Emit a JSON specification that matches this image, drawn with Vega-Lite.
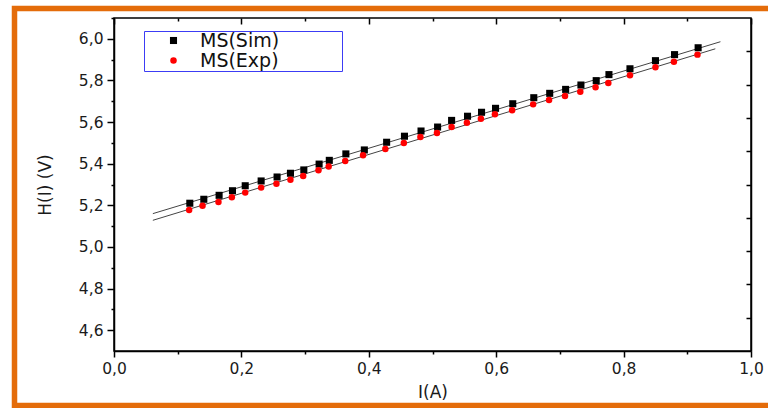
{
  "$schema": "https://vega.github.io/schema/vega-lite/v6.json",
  "width": 637,
  "height": 333,
  "autosize": {"type": "none"},
  "padding": {"left": 114, "top": 18, "right": 17, "bottom": 57},
  "background": "white",
  "config": {
    "view": {"stroke": "#000", "strokeWidth": 1.5},
    "font": "DejaVu Sans",
    "axis": {
      "grid": false,
      "domainColor": "#000",
      "domainWidth": 1.5,
      "tickColor": "#000",
      "tickWidth": 1.5,
      "labelFont": "DejaVu Sans",
      "labelFontSize": 15.5,
      "labelColor": "#1a1a1a",
      "labelFlush": false,
      "labelOverlap": false,
      "titleFont": "DejaVu Sans",
      "titleFontSize": 17,
      "titleFontWeight": "normal",
      "titleColor": "#1a1a1a"
    },
    "legend": {
      "orient": "none",
      "legendX": 30,
      "legendY": 13,
      "strokeColor": "#3c3cf5",
      "strokeWidth": 1,
      "fillColor": "white",
      "padding": 0,
      "rowPadding": 0,
      "symbolSize": 30,
      "symbolOffset": 20,
      "symbolStrokeWidth": 0,
      "labelOffset": 17,
      "labelFont": "DejaVu Sans",
      "labelFontSize": 19,
      "labelColor": "#111",
      "labelLimit": 400
    }
  },
  "datasets": {
    "pts": [
      {"series": "MS(Sim)", "I": 0.119, "H": 5.210},
      {"series": "MS(Sim)", "I": 0.141, "H": 5.229},
      {"series": "MS(Sim)", "I": 0.165, "H": 5.248},
      {"series": "MS(Sim)", "I": 0.186, "H": 5.270},
      {"series": "MS(Sim)", "I": 0.206, "H": 5.294},
      {"series": "MS(Sim)", "I": 0.231, "H": 5.317},
      {"series": "MS(Sim)", "I": 0.256, "H": 5.336},
      {"series": "MS(Sim)", "I": 0.277, "H": 5.354},
      {"series": "MS(Sim)", "I": 0.298, "H": 5.370},
      {"series": "MS(Sim)", "I": 0.322, "H": 5.398},
      {"series": "MS(Sim)", "I": 0.338, "H": 5.416},
      {"series": "MS(Sim)", "I": 0.364, "H": 5.447},
      {"series": "MS(Sim)", "I": 0.393, "H": 5.466},
      {"series": "MS(Sim)", "I": 0.428, "H": 5.503},
      {"series": "MS(Sim)", "I": 0.456, "H": 5.532},
      {"series": "MS(Sim)", "I": 0.482, "H": 5.557},
      {"series": "MS(Sim)", "I": 0.508, "H": 5.576},
      {"series": "MS(Sim)", "I": 0.530, "H": 5.608},
      {"series": "MS(Sim)", "I": 0.555, "H": 5.628},
      {"series": "MS(Sim)", "I": 0.577, "H": 5.647},
      {"series": "MS(Sim)", "I": 0.599, "H": 5.666},
      {"series": "MS(Sim)", "I": 0.626, "H": 5.688},
      {"series": "MS(Sim)", "I": 0.659, "H": 5.717},
      {"series": "MS(Sim)", "I": 0.684, "H": 5.738},
      {"series": "MS(Sim)", "I": 0.709, "H": 5.757},
      {"series": "MS(Sim)", "I": 0.733, "H": 5.778},
      {"series": "MS(Sim)", "I": 0.757, "H": 5.799},
      {"series": "MS(Sim)", "I": 0.777, "H": 5.828},
      {"series": "MS(Sim)", "I": 0.810, "H": 5.856},
      {"series": "MS(Sim)", "I": 0.850, "H": 5.895},
      {"series": "MS(Sim)", "I": 0.880, "H": 5.924},
      {"series": "MS(Sim)", "I": 0.917, "H": 5.957},
      {"series": "MS(Exp)", "I": 0.118, "H": 5.178},
      {"series": "MS(Exp)", "I": 0.139, "H": 5.198},
      {"series": "MS(Exp)", "I": 0.164, "H": 5.216},
      {"series": "MS(Exp)", "I": 0.185, "H": 5.239},
      {"series": "MS(Exp)", "I": 0.206, "H": 5.261},
      {"series": "MS(Exp)", "I": 0.231, "H": 5.285},
      {"series": "MS(Exp)", "I": 0.255, "H": 5.304},
      {"series": "MS(Exp)", "I": 0.277, "H": 5.323},
      {"series": "MS(Exp)", "I": 0.297, "H": 5.341},
      {"series": "MS(Exp)", "I": 0.321, "H": 5.368},
      {"series": "MS(Exp)", "I": 0.337, "H": 5.387},
      {"series": "MS(Exp)", "I": 0.363, "H": 5.413},
      {"series": "MS(Exp)", "I": 0.391, "H": 5.440},
      {"series": "MS(Exp)", "I": 0.426, "H": 5.471},
      {"series": "MS(Exp)", "I": 0.455, "H": 5.499},
      {"series": "MS(Exp)", "I": 0.481, "H": 5.528},
      {"series": "MS(Exp)", "I": 0.507, "H": 5.547},
      {"series": "MS(Exp)", "I": 0.530, "H": 5.576},
      {"series": "MS(Exp)", "I": 0.554, "H": 5.597},
      {"series": "MS(Exp)", "I": 0.576, "H": 5.616},
      {"series": "MS(Exp)", "I": 0.598, "H": 5.637},
      {"series": "MS(Exp)", "I": 0.625, "H": 5.657},
      {"series": "MS(Exp)", "I": 0.658, "H": 5.685},
      {"series": "MS(Exp)", "I": 0.683, "H": 5.706},
      {"series": "MS(Exp)", "I": 0.708, "H": 5.725},
      {"series": "MS(Exp)", "I": 0.732, "H": 5.746},
      {"series": "MS(Exp)", "I": 0.756, "H": 5.767},
      {"series": "MS(Exp)", "I": 0.776, "H": 5.788},
      {"series": "MS(Exp)", "I": 0.810, "H": 5.825},
      {"series": "MS(Exp)", "I": 0.850, "H": 5.863},
      {"series": "MS(Exp)", "I": 0.879, "H": 5.890},
      {"series": "MS(Exp)", "I": 0.916, "H": 5.924}
    ],
    "fits": [
      {"series": "MS(Sim)", "I": 0.061, "H": 5.160},
      {"series": "MS(Sim)", "I": 0.952, "H": 5.986},
      {"series": "MS(Exp)", "I": 0.061, "H": 5.128},
      {"series": "MS(Exp)", "I": 0.944, "H": 5.952}
    ],
    "one": [{}]
  },
  "layer": [
    {
      "data": {"name": "one"},
      "mark": {"type": "rect", "fill": "transparent", "stroke": "#e46c0a", "strokeWidth": 5.5},
      "encoding": {
        "x": {"datum": -0.1562, "type": "quantitative", "axis": null},
        "x2": {"datum": 1.1},
        "y": {"datum": 6.1457, "type": "quantitative", "axis": null},
        "y2": {"datum": 4.2381}
      }
    },
    {
      "data": {"name": "fits"},
      "mark": {"type": "line", "color": "#444444", "strokeWidth": 1},
      "encoding": {
        "x": {
          "field": "I", "type": "quantitative",
          "scale": {"domain": [0, 1], "nice": false, "zero": false},
          "axis": {
            "orient": "bottom",
            "values": [0, 0.1, 0.2, 0.3, 0.4, 0.5, 0.6, 0.7, 0.8, 0.9, 1.0],
            "tickSize": {"condition": {"test": "round(datum.value*10)%2==0", "value": 6}, "value": 3},
            "labelExpr": "round(datum.value*10)%2==0 ? replace(format(datum.value,'.1f'),'.',',') : ''",
            "labelPadding": 4,
            "grid": true,
            "gridColor": "#000",
            "gridWidth": 1.5,
            "gridOpacity": 1,
            "gridDash": {"condition": {"test": "round(datum.value*10)%2==0", "value": [6, 1000]}, "value": [3, 1000]},
            "title": "I(A)",
            "titlePadding": 8
          }
        },
        "y": {
          "field": "H", "type": "quantitative",
          "scale": {"domain": [4.5, 6.1], "nice": false, "zero": false},
          "axis": {
            "orient": "left",
            "values": [4.6, 4.7, 4.8, 4.9, 5.0, 5.1, 5.2, 5.3, 5.4, 5.5, 5.6, 5.7, 5.8, 5.9, 6.0, 6.1],
            "tickSize": {"condition": {"test": "round(datum.value*10)%2==0", "value": 7}, "value": 3},
            "labelExpr": "round(datum.value*10)%2==0 ? replace(format(datum.value,'.1f'),'.',',') : ''",
            "labelPadding": 4,
            "title": "H(I) (V)",
            "titlePadding": 24
          }
        },
        "detail": {"field": "series"}
      }
    },
    {
      "data": {"name": "pts"},
      "mark": {"type": "point", "filled": true, "opacity": 1, "strokeWidth": 0},
      "encoding": {
        "x": {"field": "I", "type": "quantitative", "axis": null},
        "y": {
          "field": "H", "type": "quantitative",
          "axis": {
            "orient": "right",
            "values": [4.66, 4.82, 4.98, 5.14, 5.3, 5.46, 5.62, 5.78, 5.94],
            "tickSize": -5,
            "labels": false,
            "title": null
          }
        },
        "color": {
          "field": "series", "type": "nominal",
          "scale": {"domain": ["MS(Sim)", "MS(Exp)"], "range": ["#000000", "#ff0000"]},
          "legend": {"title": null, "labelExpr": "datum.label + '        \u2800'"}
        },
        "shape": {
          "field": "series", "type": "nominal",
          "scale": {"domain": ["MS(Sim)", "MS(Exp)"], "range": ["square", "circle"]},
          "legend": {"title": null, "labelExpr": "datum.label + '        \u2800'"}
        },
        "size": {
          "field": "series", "type": "nominal",
          "scale": {"domain": ["MS(Sim)", "MS(Exp)"], "range": [50, 42]},
          "legend": null
        }
      }
    }
  ],
  "resolve": {"axis": {"x": "independent", "y": "independent"}}
}
